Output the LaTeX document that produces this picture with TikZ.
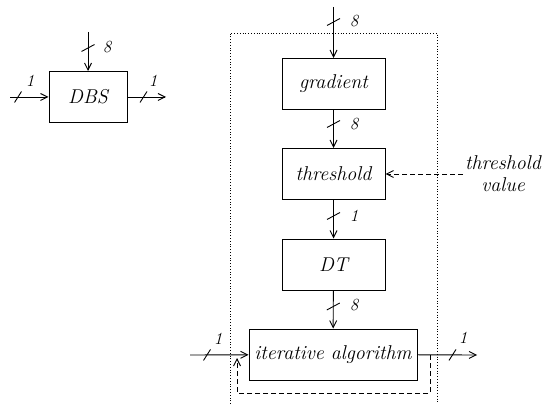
\documentclass[tikz,border=0pt]{standalone}
\usetikzlibrary{arrows.meta,decorations.markings}

\tikzset{
  block/.style={draw, line width=1pt, minimum width=#1, minimum height=51pt, inner sep=0pt,
                font=\fontsize{20}{22}\selectfont\itshape},
  block/.default=103pt,
  sig/.style={line width=0.9pt, -{Straight Barb[length=7pt,width=7pt]}},
  num/.style={font=\fontsize{17}{19}\selectfont\itshape, inner sep=0pt},
  hbus/.style={postaction={decorate,decoration={markings,mark=at position #1 with
      {\pgftransformresetnontranslations \draw[-, solid, line width=0.9pt] (-3.5,5.5) -- (3.5,-5.5);}}}},
  vbus/.style={postaction={decorate,decoration={markings,mark=at position #1 with
      {\pgftransformresetnontranslations \draw[-, solid, line width=0.9pt] (-6.5,3.5) -- (6.5,-3.5);}}}},
}

\begin{document}
\begin{tikzpicture}[x=1pt,y=-1pt]
                \useasboundingbox (0,0) rectangle (543,406);

                % small block
                \node [block=78pt] (DBS) at (88,97) {DBS};
                \coordinate (DBSin) at (10,97);
                \coordinate (DBSout) at (166,97);
                \coordinate (DBStop) at (88,32);
                \draw[sig, hbus=8pt] (DBSin) -- (DBS);
                \draw[sig, hbus=16pt] (DBS) -- (DBSout);
                \draw[sig, vbus=16pt] (DBStop) -- (DBS);
                \node [num] (nDBSin) at (30,81) {1};
                \node [num] (nDBSout) at (153,81) {1};
                \node [num] (nDBStop) at (107,47) {8};

                % expanded block
                \draw[dotted, line width=0.8pt] (230,404) -- (230,33) -- (437,33) -- (437,404);

                \node [block] (grad) at (333.5,84) {gradient};
                \node [block] (thr) at (333.5,174) {threshold};
                \node [block] (DT) at (333.5,264.5) {DT};
                \node [block=168pt] (iter) at (333,354.5) {iterative algorithm};

                \coordinate (top) at (333.5,7);
                \coordinate (in) at (190,355);
                \coordinate (out) at (477,355);
                \coordinate (tv) at (463,174);

                \draw[sig, vbus=15pt] (top) -- (grad);
                \draw[sig, vbus=14pt] (grad) -- (thr);
                \draw[sig, vbus=16pt] (thr) -- (DT);
                \draw[sig, vbus=16pt] (DT) -- (iter);
                \draw[sig, hbus=17pt] (in) -- (iter);
                \draw[sig, hbus=35pt] (iter) -- (out);

                \node [num] (ntop) at (354,21) {8};
                \node [num] (ngrad) at (354,124) {8};
                \node [num] (nthr) at (354,216) {1};
                \node [num] (nDT) at (354,305) {8};
                \node [num] (nin) at (218,339) {1};
                \node [num] (nout) at (463,338) {1};

                \node [align=center, font=\fontsize{20}{22}\selectfont\itshape] (tvlabel) at (503,174) {threshold\\value};
                \draw[sig, dashed, dash pattern=on 5pt off 3pt] (tv) -- (thr);

                % feedback
                \coordinate (fb) at (430,355);
                \coordinate (fbend) at (237,358);
                \draw[sig, dashed, dash pattern=on 5pt off 3pt] (fb) -- (430,393) -- (237,393) -- (fbend);
            \end{tikzpicture}
\end{document}
